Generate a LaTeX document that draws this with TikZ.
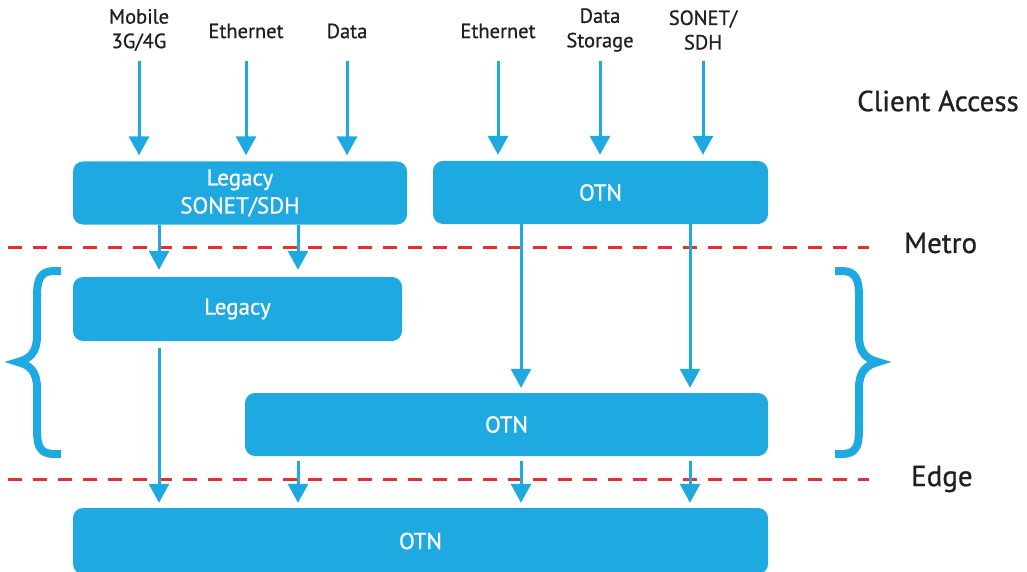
\documentclass[tikz,border=0pt]{standalone}
\usepackage{fontspec}
\setmainfont{PT Sans}[FakeBold=0.8]
\usetikzlibrary{arrows.meta}
\definecolor{otnblue}{RGB}{30,170,225}
\definecolor{dashred}{RGB}{232,48,42}
\definecolor{labelink}{RGB}{35,31,32}
\tikzset{
  box/.style={rectangle, rounded corners=10pt, fill=otnblue, text=white, inner sep=0pt, font=\fontsize{23}{28}\selectfont, align=center},
  arr/.style={draw=otnblue, line width=3pt, -{Triangle[width=20pt,length=19pt]}, fill=otnblue},
  inlabel/.style={text=labelink, font=\fontsize{20.5}{24.5}\selectfont, align=center, inner sep=0pt},
  levlabel/.style={text=labelink, font=\fontsize{29}{32}\selectfont, inner sep=0pt, anchor=west},
  dashline/.style={draw=dashred, line width=3pt, dash pattern=on 14pt off 11pt},
  bracestyle/.style={draw=otnblue, line width=8pt, line cap=butt}
}
\begin{document}
\begin{tikzpicture}[x=1pt,y=-1pt]
\useasboundingbox (0,0) rectangle (1027,572);
% boxes
\node[box, minimum width=334pt, minimum height=63pt] (ls) at (240,193) {Legacy\\SONET/SDH};
\node[box, minimum width=335pt, minimum height=63pt] (otn1) at (600.5,192.5) {OTN};
\node[box, minimum width=329pt, minimum height=64pt] (leg) at (237.5,309) {Legacy};
\node[box, minimum width=523pt, minimum height=63pt] (otn2) at (506.5,424.5) {OTN};
\node[box, minimum width=695pt, minimum height=66pt] (otn3) at (420.5,541) {OTN};
% input labels
\node[inlabel] (mob) at (139,30) {Mobile\\3G/4G};
\node[inlabel] (eth1) at (246,31) {Ethernet};
\node[inlabel] (dat) at (347,31) {Data};
\node[inlabel] (eth2) at (498,31) {Ethernet};
\node[inlabel] (dst) at (600,30) {Data\\Storage};
\node[inlabel] (son) at (703,30) {SONET/\\SDH};
% level labels
\node[levlabel] (ca) at (857,101) {Client Access};
\node[levlabel] (metro) at (904,243) {Metro};
\node[levlabel] (edge) at (911,479) {Edge};
% dashed lines
\draw[dashline] (8,247) -- (869,247);
\draw[dashline] (8,479) -- (869,479);
% input arrows
\coordinate (a1) at (139,61);
\coordinate (a2) at (246,61);
\coordinate (a3) at (347,61);
\coordinate (a4) at (498,61);
\coordinate (a5) at (600,61);
\coordinate (a6) at (703,61);
\draw[arr, shorten >=6pt] (a1) -- (a1 |- ls.north);
\draw[arr, shorten >=6pt] (a2) -- (a2 |- ls.north);
\draw[arr, shorten >=6pt] (a3) -- (a3 |- ls.north);
\draw[arr, shorten >=6pt] (a4) -- (a4 |- otn1.north);
\draw[arr, shorten >=6pt] (a5) -- (a5 |- otn1.north);
\draw[arr, shorten >=6pt] (a6) -- (a6 |- otn1.north);
% legacy sonet -> legacy
\coordinate (x1) at (159,0);
\coordinate (x2) at (298,0);
\coordinate (x3) at (521,0);
\coordinate (x4) at (690,0);
\draw[arr, shorten >=7pt] (x1 |- ls.south) -- (x1 |- leg.north);
\draw[arr, shorten >=7pt] (x2 |- ls.south) -- (x2 |- leg.north);
% otn1 -> otn2
\draw[arr, shorten >=5pt] (x3 |- otn1.south) -- (x3 |- otn2.north);
\draw[arr, shorten >=5pt] (x4 |- otn1.south) -- (x4 |- otn2.north);
% legacy -> otn3
\draw[arr, shorten <=7pt, shorten >=5pt] (x1 |- leg.south) -- (x1 |- otn3.north);
% otn2 -> otn3
\draw[arr, shorten <=5pt, shorten >=5pt] (x2 |- otn2.south) -- (x2 |- otn3.north);
\draw[arr, shorten <=5pt, shorten >=5pt] (x3 |- otn2.south) -- (x3 |- otn3.north);
\draw[arr, shorten <=5pt, shorten >=5pt] (x4 |- otn2.south) -- (x4 |- otn3.north);
% braces
\draw[bracestyle] (61,271) -- (54,271) .. controls (40,271) and (37,280) .. (37,296) -- (37,336)
  .. controls (37,352) and (30,359) .. (18,362)
  .. controls (30,365) and (37,372) .. (37,388) -- (37,430)
  .. controls (37,446) and (40,454) .. (54,454) -- (61,454);
\draw[bracestyle] (835,271) -- (842,271) .. controls (856,271) and (859,280) .. (859,296) -- (859,336)
  .. controls (859,352) and (866,359) .. (878,362)
  .. controls (866,365) and (859,372) .. (859,388) -- (859,430)
  .. controls (859,446) and (856,454) .. (842,454) -- (835,454);
\end{tikzpicture}
\end{document}
